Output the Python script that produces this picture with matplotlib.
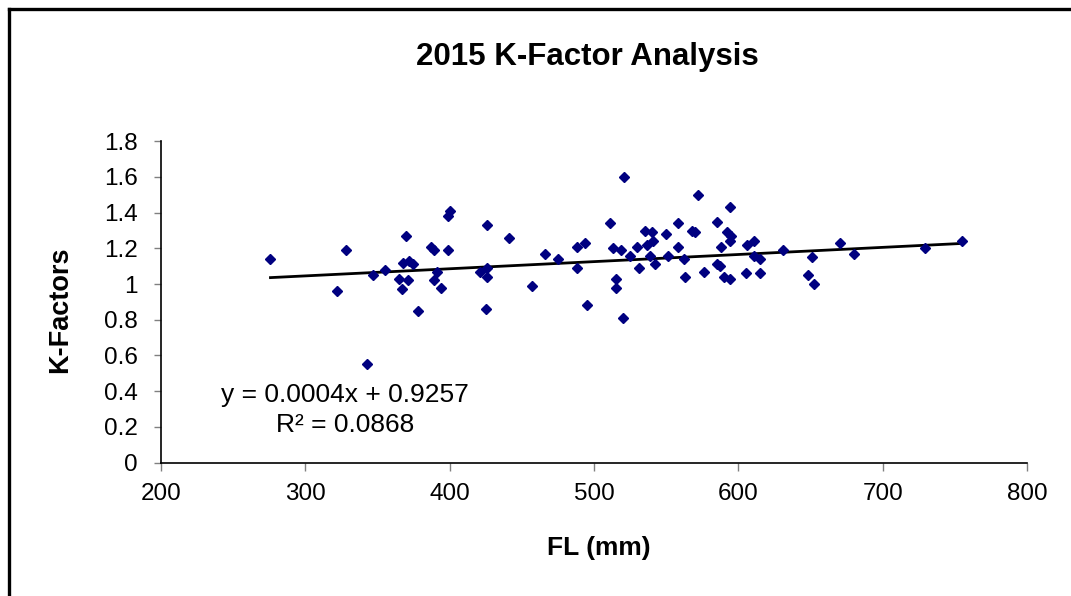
import numpy as np
import matplotlib
matplotlib.use("Agg")
import matplotlib.pyplot as plt
from matplotlib.lines import Line2D

plt.rcParams['font.family'] = ['Liberation Sans', 'DejaVu Sans']

# Fork length (mm) and K-factor for each fish sampled in 2015
fl_mm = [276, 322, 328, 343, 347, 355, 370, 368, 372, 375, 365, 371, 367, 378,
         387, 389, 391, 389, 394, 400, 399, 399, 426, 421, 426, 426, 425, 441,
         457, 466, 475, 488, 494, 488, 495, 511, 513, 519, 515, 515, 521, 520,
         525, 530, 531, 535, 540, 537, 541, 539, 542, 550, 551, 558, 558, 562,
         563, 572, 568, 570, 576, 585, 588, 585, 587, 590, 594, 594, 592, 595,
         594, 605, 606, 611, 611, 615, 615, 631, 648, 651, 652, 670, 680, 729,
         755]
k_factor = [1.14, 0.96, 1.19, 0.55, 1.05, 1.08, 1.27, 1.12, 1.13, 1.11, 1.03,
            1.02, 0.97, 0.85, 1.21, 1.19, 1.07, 1.02, 0.98, 1.41, 1.38, 1.19,
            1.33, 1.07, 1.09, 1.04, 0.86, 1.26, 0.99, 1.17, 1.14, 1.21, 1.23,
            1.09, 0.88, 1.34, 1.20, 1.19, 1.03, 0.98, 1.60, 0.81, 1.16, 1.21,
            1.09, 1.30, 1.29, 1.22, 1.24, 1.16, 1.11, 1.28, 1.16, 1.34, 1.21,
            1.14, 1.04, 1.50, 1.30, 1.29, 1.07, 1.35, 1.21, 1.11, 1.10, 1.04,
            1.03, 1.43, 1.29, 1.27, 1.24, 1.06, 1.22, 1.24, 1.16, 1.14, 1.06,
            1.19, 1.05, 1.15, 1.00, 1.23, 1.17, 1.20, 1.24]

# Linear trendline as reported on the chart
trend_slope = 0.0004
trend_intercept = 0.9257
r_squared = 0.0868

x_ticks = [200, 300, 400, 500, 600, 700, 800]
y_ticks = [0, 0.2, 0.4, 0.6, 0.8, 1.0, 1.2, 1.4, 1.6, 1.8]
y_tick_labels = ["0", "0.2", "0.4", "0.6", "0.8", "1", "1.2", "1.4", "1.6", "1.8"]

W, H = 1071, 596
fig = plt.figure(figsize=(W / 100, H / 100), dpi=100)
ax = fig.add_axes([160.7 / W, 1 - 462.5 / H, (1027.3 - 160.7) / W, (462.5 - 141.3) / H])

ax.plot(fl_mm, k_factor, linestyle='none', marker='D', markersize=5.4,
        markerfacecolor='#000080', markeredgecolor='#000080', zorder=3)

x_line = np.array([min(fl_mm), max(fl_mm)], dtype=float)
ax.plot(x_line, trend_slope * x_line + trend_intercept, color='black', lw=2.0, zorder=2)

ax.set_xlim(200, 800)
ax.set_ylim(0, 1.8)
ax.set_xticks(x_ticks)
ax.set_yticks(y_ticks)
ax.set_yticklabels(y_tick_labels)
ax.tick_params(axis='both', direction='out', width=1, color='#808080', labelsize=17.5)
ax.tick_params(axis='y', length=5, pad=11.5)
ax.tick_params(axis='x', length=5.5, pad=9.5)
for side in ('top', 'right'):
    ax.spines[side].set_visible(False)
for side in ('left', 'bottom'):
    ax.spines[side].set_linewidth(1.2)
    ax.spines[side].set_color('black')

fig.text(345 / W, 1 - 395 / H, f"y = {trend_slope:.4f}x + {trend_intercept:.4f}",
         ha='center', va='center', fontsize=19)
fig.text(345 / W, 1 - 425 / H, f"R² = {r_squared:.4f}",
         ha='center', va='center', fontsize=19)

fig.text(587.5 / W, 1 - 57 / H, "2015 K-Factor Analysis", ha='center', va='center',
         fontsize=22.5, fontweight='bold')
fig.text(598.5 / W, 1 - 548 / H, "FL (mm)", ha='center', va='center',
         fontsize=19, fontweight='bold')
fig.text(60 / W, 1 - 310 / H, "K-Factors", ha='center', va='center', rotation=90,
         fontsize=19.5, fontweight='bold')

# Chart frame (left and top edges visible)
fig.add_artist(Line2D([8.5 / W, 8.5 / W], [0, 1 - 8.5 / H], transform=fig.transFigure,
                      color='black', lw=2.4))
fig.add_artist(Line2D([8.5 / W, 1], [1 - 8.5 / H, 1 - 8.5 / H], transform=fig.transFigure,
                      color='black', lw=2.4))

fig.savefig("out.png", dpi=100, facecolor='white')
